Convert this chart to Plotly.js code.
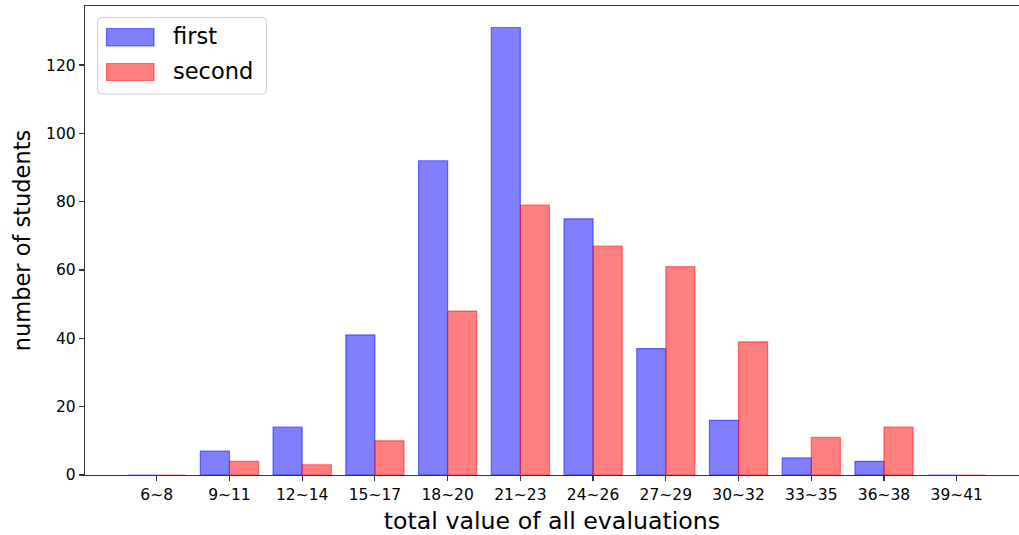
<!DOCTYPE html>
<html>
<head>
<meta charset="utf-8">
<script src="https://cdn.plot.ly/plotly-3.0.1.min.js"></script>
<style>html,body{margin:0;padding:0;background:#fff;}#chart{width:1019px;height:535px;}</style>
</head>
<body>
<div id="chart"></div>
<script>
const categories = ['6~8','9~11','12~14','15~17','18~20','21~23','24~26','27~29','30~32','33~35','36~38','39~41'];
const firstCounts = [0,7,14,41,92,131,75,37,16,5,4,0];
const secondCounts = [0,4,3,10,48,79,67,61,39,11,14,0];
const seriesNames = ['first','second'];
const yTicks = [0,20,40,60,80,100,120];

const W = 1019, H = 535;
const M = {l:85, r:0, t:6, b:60};
const PW = W - M.l - M.r, PH = H - M.t - M.b;
const px = x => (x - M.l) / PW;
const py = y => (H - M.b - y) / PH;

const blueFill = 'rgba(0,0,255,0.5)';
const redFill = 'rgba(255,0,0,0.5)';
const font = 'DejaVu Sans, sans-serif';

const traces = [
  {type:'bar', name:seriesNames[0], x:categories, y:firstCounts,
   marker:{color:blueFill, line:{color:blueFill, width:1.2}}, hoverinfo:'x+y'},
  {type:'bar', name:seriesNames[1], x:categories, y:secondCounts,
   marker:{color:redFill, line:{color:redFill, width:1.2}}, hoverinfo:'x+y'}
];

// custom matplotlib-style legend
function roundRect(x0,y0,x1,y1,r){
  const X0=px(x0),X1=px(x1),Y0=py(y0),Y1=py(y1);
  const rx=r/PW, ry=r/PH;
  return `M${X0+rx},${Y0} L${X1-rx},${Y0} Q${X1},${Y0} ${X1},${Y0-ry} L${X1},${Y1+ry} Q${X1},${Y1} ${X1-rx},${Y1} L${X0+rx},${Y1} Q${X0},${Y1} ${X0},${Y1+ry} L${X0},${Y0-ry} Q${X0},${Y0} ${X0+rx},${Y0} Z`;
}
const shapes = [
  {type:'path', xref:'paper', yref:'paper', path:roundRect(97.5,17.5,266.5,94,4),
   fillcolor:'rgba(255,255,255,0.8)', line:{color:'#d0d0d0', width:1}},
  {type:'rect', xref:'paper', yref:'paper', x0:px(106.5), x1:px(154), y0:py(46), y1:py(28.5),
   fillcolor:blueFill, line:{color:blueFill, width:1.2}},
  {type:'rect', xref:'paper', yref:'paper', x0:px(106.5), x1:px(154), y0:py(80.5), y1:py(63.5),
   fillcolor:redFill, line:{color:redFill, width:1.2}}
];
const annotations = [
  {xref:'paper', yref:'paper', x:px(171), y:py(36), xanchor:'left', yanchor:'middle', showarrow:false,
   text:seriesNames[0], font:{family:font, size:22.5, color:'#000'}},
  {xref:'paper', yref:'paper', x:px(171), y:py(71), xanchor:'left', yanchor:'middle', showarrow:false,
   text:seriesNames[1], font:{family:font, size:22.5, color:'#000'}}
];

const layout = {
  width:W, height:H, margin:M,
  paper_bgcolor:'#fff', plot_bgcolor:'#fff',
  showlegend:false,
  barmode:'group', bargap:0.2, bargroupgap:0,
  font:{family:font, size:15.5, color:'#000'},
  xaxis:{type:'category', range:[-0.986, 11.856], showgrid:false, zeroline:false,
    showline:true, mirror:true, linecolor:'#333', linewidth:1.2,
    ticks:'outside', ticklen:5, tickwidth:1.2, tickcolor:'#333',
    tickfont:{family:font, size:15.5, color:'#000'},
    title:{text:'total value of all evaluations', font:{family:font, size:23.7, color:'#000'}},
    automargin:false, fixedrange:true},
  yaxis:{range:[0,137.3], tickvals:yTicks, showgrid:false, zeroline:false,
    showline:true, linecolor:'#333', linewidth:1.2,
    ticks:'outside', ticklen:5, tickwidth:1.2, tickcolor:'#333',
    tickfont:{family:font, size:15.5, color:'#000'},
    title:{text:'number of students', font:{family:font, size:22.5, color:'#000'}},
    automargin:false, fixedrange:true},
  shapes:shapes,
  annotations:annotations
};
Plotly.newPlot('chart', traces, layout, {displayModeBar:false, staticPlot:true});
</script>
</body>
</html>
